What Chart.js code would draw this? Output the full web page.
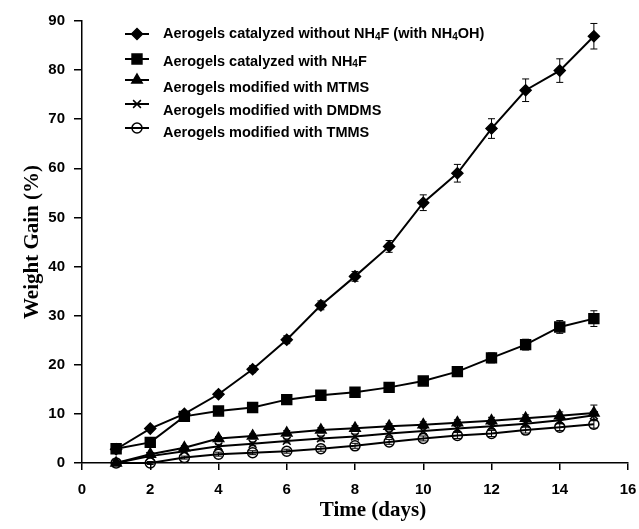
<!DOCTYPE html>
<html>
<head>
<meta charset="utf-8">
<script src="https://cdn.jsdelivr.net/npm/chart.js@4.4.0/dist/chart.umd.min.js"></script>
<style>
html,body{margin:0;padding:0;background:#fff;}
canvas{display:block;}
</style>
</head>
<body>
<canvas id="c" width="639" height="529"></canvas>
<script>
// ---- data ----
const days = [1,2,3,4,5,6,7,8,9,10,11,12,13,14,15];
const seriesLabels = [
  'Aerogels catalyzed without NH₄F (with NH₄OH)',
  'Aerogels catalyzed with NH₄F',
  'Aerogels modified with MTMS',
  'Aerogels modified with DMDMS',
  'Aerogels modified with TMMS'
];
const withoutNH4F = [2.8, 7.0, 10.0, 14.0, 19.1, 25.1, 32.1, 38.0, 44.1, 53.0, 59.0, 68.1, 75.9, 79.9, 86.9];
const withNH4F    = [2.9, 4.2, 9.5, 10.6, 11.3, 12.9, 13.8, 14.4, 15.4, 16.7, 18.6, 21.4, 24.1, 27.7, 29.4];
const mtms        = [0.0, 1.8, 3.1, 5.0, 5.5, 6.1, 6.7, 7.1, 7.5, 7.8, 8.2, 8.6, 9.1, 9.6, 10.2];
const dmdms       = [0.0, 1.4, 2.4, 3.4, 3.9, 4.5, 5.0, 5.4, 6.0, 6.5, 7.0, 7.5, 8.0, 8.7, 9.7];
const tmms        = [0.0, 0.0, 1.1, 1.8, 2.1, 2.4, 2.9, 3.5, 4.3, 5.0, 5.6, 6.0, 6.7, 7.3, 7.9];
const withoutNH4FErr = [0.3, 0.4, 0.5, 0.6, 0.7, 0.8, 0.9, 1.0, 1.2, 1.6, 1.8, 2.0, 2.3, 2.4, 2.6];
const withNH4FErr    = [0.3, 0.3, 0.4, 0.4, 0.4, 0.5, 0.5, 0.6, 0.6, 0.7, 0.8, 1.0, 1.1, 1.3, 1.6];
const mtmsErr        = [0.2, 0.3, 0.4, 0.4, 0.4, 0.5, 0.5, 0.5, 0.5, 0.6, 0.6, 0.7, 0.7, 0.8, 1.6];
const dmdmsErr       = [0.2, 0.3, 0.3, 0.4, 0.4, 0.4, 0.5, 0.5, 0.5, 0.5, 0.6, 0.6, 0.6, 0.7, 0.8];
const tmmsErr        = [0.2, 0.3, 0.3, 0.4, 0.4, 0.4, 0.5, 0.5, 0.5, 0.5, 0.6, 0.6, 0.6, 0.7, 0.8];
const xTicks = [0,2,4,6,8,10,12,14,16];
const yTicks = [0,10,20,30,40,50,60,70,80,90];
const xTitle = 'Time (days)';
const yTitle = 'Weight Gain (%)';

const values = [withoutNH4F, withNH4F, mtms, dmdms, tmms];
const errors = [withoutNH4FErr, withNH4FErr, mtmsErr, dmdmsErr, tmmsErr];
const styles = [
  {pointStyle:'rectRot', radius:5.5, fill:true},
  {pointStyle:'rect', radius:7, fill:true},
  {pointStyle:'triangle', radius:6, fill:true},
  {pointStyle:'crossRot', radius:5.5, fill:false},
  {pointStyle:'circle', radius:5, fill:false}
];

const datasets = values.map((v, i) => ({
  label: seriesLabels[i],
  data: days.map((d, j) => ({x: d, y: v[j]})),
  errs: errors[i],
  borderColor: '#000',
  borderWidth: 2,
  backgroundColor: styles[i].fill ? '#000' : 'rgba(0,0,0,0)',
  pointStyle: styles[i].pointStyle,
  pointRadius: styles[i].radius,
  pointHoverRadius: styles[i].radius,
  pointBorderColor: '#000',
  pointBackgroundColor: styles[i].fill ? '#000' : 'rgba(0,0,0,0)',
  pointBorderWidth: 1.5,
  tension: 0,
  clip: false,
  fill: false
}));

function drawMarker(ctx, style, r, x, y, fill) {
  ctx.beginPath();
  if (style === 'rectRot') {
    ctx.moveTo(x, y - r); ctx.lineTo(x + r, y); ctx.lineTo(x, y + r); ctx.lineTo(x - r, y); ctx.closePath();
  } else if (style === 'rect') {
    const s = r / Math.SQRT2; ctx.rect(x - s, y - s, 2 * s, 2 * s);
  } else if (style === 'triangle') {
    ctx.moveTo(x, y - r); ctx.lineTo(x + r * 0.866, y + r * 0.5); ctx.lineTo(x - r * 0.866, y + r * 0.5); ctx.closePath();
  } else if (style === 'crossRot') {
    const s = r * 0.7071;
    ctx.moveTo(x - s, y - s); ctx.lineTo(x + s, y + s); ctx.moveTo(x + s, y - s); ctx.lineTo(x - s, y + s);
  } else {
    ctx.arc(x, y, r, 0, Math.PI * 2);
  }
  if (fill) ctx.fill();
  ctx.stroke();
}

const errorBarPlugin = {
  id: 'errbars',
  afterDatasetsDraw(chart) {
    const ctx = chart.ctx;
    const ys = chart.scales.y, xs = chart.scales.x;
    ctx.save();
    ctx.strokeStyle = '#000';
    ctx.lineWidth = 1;
    chart.data.datasets.forEach(ds => {
      ds.data.forEach((p, j) => {
        const e = ds.errs[j];
        const px = xs.getPixelForValue(p.x);
        const y1 = ys.getPixelForValue(p.y + e), y2 = ys.getPixelForValue(p.y - e);
        ctx.beginPath();
        ctx.moveTo(px, y1); ctx.lineTo(px, y2);
        ctx.moveTo(px - 3.5, y1); ctx.lineTo(px + 3.5, y1);
        ctx.moveTo(px - 3.5, y2); ctx.lineTo(px + 3.5, y2);
        ctx.stroke();
      });
    });
    ctx.restore();
  }
};

function drawRichText(ctx, text, x, y, size) {
  const parts = text.split('₄');
  let cx = x;
  parts.forEach((part, k) => {
    ctx.font = 'bold ' + size + 'px "Liberation Sans", Arial, sans-serif';
    ctx.fillText(part, cx, y);
    cx += ctx.measureText(part).width;
    if (k < parts.length - 1) {
      ctx.font = 'bold ' + Math.round(size * 0.72) + 'px "Liberation Sans", Arial, sans-serif';
      ctx.fillText('4', cx, y + size * 0.22);
      cx += ctx.measureText('4').width;
    }
  });
}

const legendPlugin = {
  id: 'customLegend',
  afterDraw(chart) {
    const ctx = chart.ctx;
    const markerY = [34, 59, 80, 104, 128];
    const textY = [34, 61.5, 88, 111, 133];
    ctx.save();
    ctx.textBaseline = 'middle';
    ctx.fillStyle = '#000';
    chart.data.datasets.forEach((ds, i) => {
      const my = markerY[i];
      ctx.strokeStyle = '#000';
      ctx.lineWidth = 2;
      ctx.beginPath(); ctx.moveTo(125, my); ctx.lineTo(149, my); ctx.stroke();
      ctx.fillStyle = '#000';
      ctx.lineWidth = 1.5;
      drawMarker(ctx, ds.pointStyle, ds.pointRadius, 137, my, ds.pointBackgroundColor === '#000');
      ctx.fillStyle = '#000';
      drawRichText(ctx, ds.label, 163, textY[i], 14.5);
    });
    // x axis title
    ctx.font = 'bold 21px "Liberation Serif", "Times New Roman", serif';
    ctx.textAlign = 'center';
    ctx.fillText(xTitle, 373, 511);
    ctx.restore();
  }
};

new Chart(document.getElementById('c'), {
  type: 'line',
  data: { datasets },
  options: {
    responsive: false,
    animation: false,
    devicePixelRatio: 1,
    layout: { padding: { top: 21, right: 11, left: 0, bottom: 0 } },
    plugins: { legend: { display: false }, tooltip: { enabled: false } },
    scales: {
      x: {
        type: 'linear', min: 0, max: 16,
        afterFit(s) { s.height = 66; s.paddingRight = 0; s.paddingLeft = 0; },
        afterBuildTicks(s) { s.ticks = xTicks.map(v => ({value: v})); },
        ticks: { color: '#000', font: { family: '"Liberation Sans", Arial, sans-serif', size: 15, weight: 'bold' }, padding: 11, maxRotation: 0 },
        grid: { display: true, drawOnChartArea: false, drawTicks: true, tickLength: 7, color: '#000', lineWidth: 1.5 },
        border: { display: true, color: '#000', width: 1.5 },
        title: { display: false }
      },
      y: {
        type: 'linear', min: 0, max: 90,
        afterFit(s) { s.width = 82; s.paddingTop = 0; s.paddingBottom = 0; },
        afterBuildTicks(s) { s.ticks = yTicks.map(v => ({value: v})); },
        ticks: { color: '#000', font: { family: '"Liberation Sans", Arial, sans-serif', size: 15, weight: 'bold' }, padding: 9 },
        grid: { display: true, drawOnChartArea: false, drawTicks: true, tickLength: 8, color: '#000', lineWidth: 1.5 },
        border: { display: true, color: '#000', width: 1.5 },
        title: { display: true, text: yTitle, color: '#000', font: { family: '"Liberation Serif", "Times New Roman", serif', size: 21, weight: 'bold' }, padding: { top: 20, bottom: 0 } }
      }
    }
  },
  plugins: [errorBarPlugin, legendPlugin]
});
</script>
</body>
</html>
